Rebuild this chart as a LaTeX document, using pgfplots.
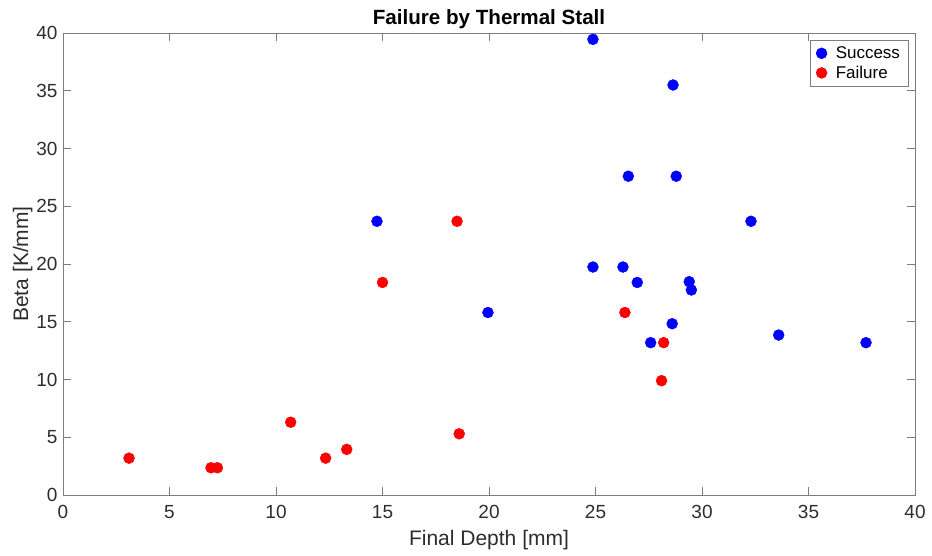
\documentclass[border=0pt]{standalone}
\usepackage{pgfplots}
\pgfplotsset{compat=1.18}
\usepackage{fontspec}
\setmainfont{Liberation Sans}
\definecolor{axgray}{RGB}{125,125,125}
\definecolor{txtgray}{RGB}{45,45,45}
\begin{document}
\begin{tikzpicture}
\begin{axis}[
  width=852pt, height=462pt, scale only axis,
  xmin=0, xmax=40, ymin=0, ymax=40,
  xtick={0,5,...,40}, ytick={0,5,...,40},
  tick align=inside, major tick length=8pt,
  axis line style={axgray, line width=0.8pt},
  every tick/.style={axgray, line width=0.8pt},
  /pgf/number format/assume math mode=true,
  tick label style={font=\fontsize{19}{22}\selectfont, text=txtgray},
  xticklabel style={yshift=-7pt},
  yticklabel style={xshift=-2pt},
  label style={font=\fontsize{21}{24}\selectfont, text=txtgray},
  xlabel={Final Depth [mm]}, ylabel={Beta [K/mm]},
  xlabel style={yshift=-4pt},
  ylabel style={yshift=-3pt},
  title={\textbf{Failure by Thermal Stall}},
  title style={font=\fontsize{20.6}{24}\selectfont, yshift=-5pt},
  legend style={at={(rel axis cs:0.992,0.985)}, anchor=north east, draw=axgray,
    font=\fontsize{17}{20}\selectfont, text=black, inner xsep=6pt, inner ysep=4.5pt,
    row sep=2pt},
  legend image code/.code={\draw[#1] plot coordinates {(0.2cm,0cm)}; \path (0cm,0cm) (0.62cm,0cm);},
  legend cell align=left,
]
\addplot[only marks, mark=*, mark size=5.5pt, draw=blue, fill=blue] coordinates {
(24.88,39.45) (28.64,35.5) (26.54,27.6) (28.79,27.6) (14.74,23.7) (32.3,23.7)
(24.88,19.74) (26.29,19.74) (26.96,18.4) (29.4,18.47) (29.5,17.75) (19.95,15.8)
(28.6,14.83) (27.59,13.19) (33.6,13.85) (37.7,13.19)
};
\addlegendentry{Success}
\addplot[only marks, mark=*, mark size=5.5pt, draw=red, fill=red] coordinates {
(3.1,3.19) (6.95,2.36) (7.25,2.36) (10.69,6.3) (12.33,3.19) (13.32,3.95)
(15.0,18.4) (18.5,23.7) (18.6,5.3) (26.38,15.8) (28.2,13.19) (28.1,9.9)
};
\addlegendentry{Failure}
\end{axis}
\path (current axis.south west) ++(-63pt,-60pt) (current axis.north east) ++(17pt,33pt);
\end{tikzpicture}
\end{document}
